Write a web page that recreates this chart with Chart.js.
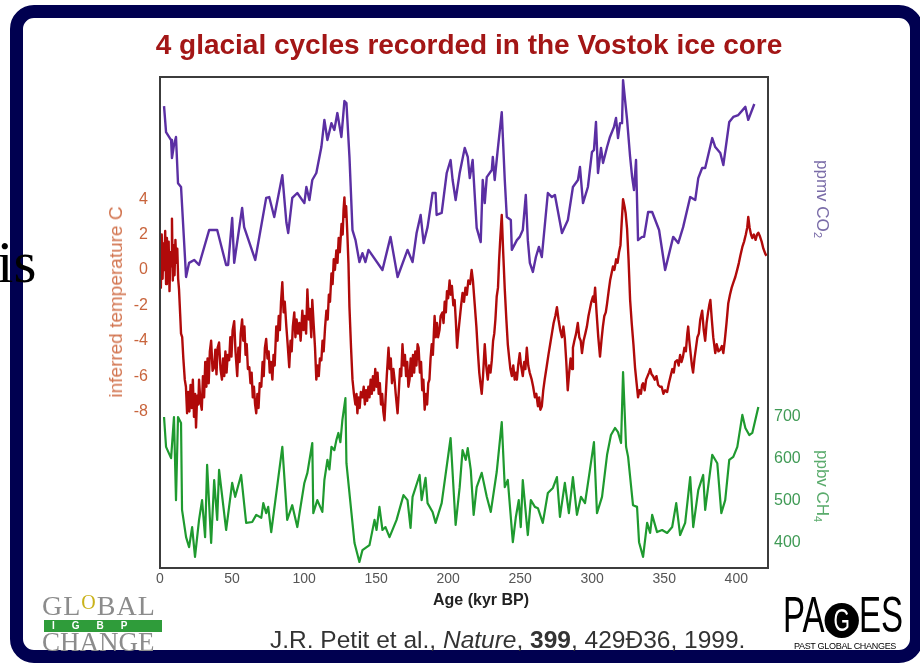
<!DOCTYPE html>
<html>
<head>
<meta charset="utf-8">
<script src="https://cdn.jsdelivr.net/npm/chart.js@4.4.0/dist/chart.umd.min.js"></script>
<style>
  body { margin: 0; width: 920px; height: 663px; overflow: hidden; background: #fff; position: relative; font-family: "Liberation Sans", Arial, sans-serif; }
  #frame { position: absolute; left: 10px; top: 5px; width: 887px; height: 632px; border: 13px solid #000050; border-radius: 24px; background: #fff; }
  #chart { position: absolute; left: 0; top: 0; }
  .txt { position: absolute; white-space: nowrap; }
  #title { left: 155px; top: 29px; width: 628px; text-align: center; font: bold 28px "Liberation Sans", Arial, sans-serif; color: #a31616; }
  #ytitle { left: 116px; top: 302px; transform: translate(-50%, -50%) rotate(-90deg); font-size: 19px; color: #d2744f; }
  .rtitle { writing-mode: vertical-rl; font-size: 17px; }
  .rtitle sub { font-size: 11px; vertical-align: baseline; position: relative; left: -4px; }
  #co2title { left: 812px; top: 160px; color: #7a6ca8; }
  #ch4title { left: 812px; top: 450px; color: #5aab6c; }
  #xtitle { left: 481px; top: 591px; transform: translateX(-50%); font-weight: bold; font-size: 16px; color: #222; }
  #cite { left: 270px; top: 626px; font: 24.5px "Liberation Sans", Arial, sans-serif; color: #333; }
  #is { left: -3px; top: 228px; font: 59px "Liberation Serif", serif; color: #000; }
  #glob { left: 42px; top: 592px; width: 120px; font-family: "Liberation Serif", serif; color: #8c8c8c; }
  #glob .l1 { font-size: 28px; letter-spacing: 1px; line-height: 27px; height: 27px; }
  #glob .o { color: #c9b21a; font-size: 20px; position: relative; top: -6px; }
  #glob .bar { background: #2f9c3a; color: #fff; font: bold 10px "Liberation Sans", sans-serif; letter-spacing: 17px; padding-left: 8px; height: 12px; line-height: 12px; width: 110px; margin: 1px 0 0 2px; }
  #glob .l2 { font-size: 27px; line-height: 21px; height: 21px; }
  #pages { left: 783px; top: 594px; width: 124px; color: #000; }
  #pages .big { font: 50px "Liberation Sans", Arial, sans-serif; line-height: 42px; transform: scaleX(0.66); transform-origin: left top; white-space: nowrap; }
  #pages .g { display: inline-block; width: 52px; height: 35px; border-radius: 50%; background: #000; color: #fff; font-size: 32px; line-height: 35px; text-align: center; vertical-align: 1px; }
  #pages .small { font: 9px "Liberation Sans", sans-serif; margin-top: 3px; width: 124px; text-align: center; letter-spacing: -0.3px; }
</style>
</head>
<body>
<div id="frame"></div>
<div class="txt" id="is">is</div>
<canvas id="chart" width="920" height="663"></canvas>
<div class="txt" id="title">4 glacial cycles recorded in the Vostok ice core</div>
<div class="txt" id="ytitle">inferred temperature C</div>
<div class="txt rtitle" id="co2title">ppmv CO<sub>2</sub></div>
<div class="txt rtitle" id="ch4title">ppbv CH<sub>4</sub></div>
<div class="txt" id="xtitle">Age (kyr BP)</div>
<div class="txt" id="cite">J.R. Petit et al., <i>Nature</i>, <b>399</b>, 429&#208;36, 1999.</div>
<div class="txt" id="glob"><div class="l1">GL<span class="o">O</span>BAL</div><div class="bar">IGBP</div><div class="l2">CHANGE</div></div>
<div class="txt" id="pages"><div class="big">PA<span class="g">G</span>ES</div><div class="small">PAST GLOBAL CHANGES</div></div>
<script>
const xTicks = [0, 50, 100, 150, 200, 250, 300, 350, 400];
const tempTicks = [-8, -6, -4, -2, 0, 2, 4];
const co2Ticks = [200, 220, 240, 260, 280];
const ch4Ticks = [400, 500, 600, 700];

// temperature (deg C) vs age (kyr BP)
const tempAge = [
  0, 0.6, 1.2, 1.8, 2.4, 3.0, 3.6, 4.2, 4.8, 5.4, 6.0, 6.6, 7.2, 7.8, 8.3, 8.9, 9.5, 10.1, 10.7, 11.3, 12.0, 12.6, 13.2, 14.0, 14.6, 15.4, 16.2, 17.2, 18.0, 18.8,
  19.6, 20.4, 21.2, 22.0, 22.8, 23.6, 24.4, 25.0, 25.8, 26.6, 27.1, 28.0, 29.0, 29.8, 30.6, 31.4, 32.2, 33.0, 33.8, 34.6, 35.5, 36.5, 37.6, 38.4, 39.2, 40.0, 41.0, 42.0, 43.0, 43.8,
  44.6, 45.4, 46.2, 47.0, 48.0, 48.8, 49.6, 50.4, 51.5, 52.4, 53.6, 54.4, 55.2, 56.0, 57.0, 57.8, 58.6, 59.4, 60.2, 61.0, 62.0, 62.8, 63.6, 64.4, 65.2, 66.0, 66.8, 67.6, 68.4, 69.2,
  70.3, 71.2, 72.0, 72.8, 73.7, 74.6, 75.4, 76.2, 77.0, 78.0, 78.8, 79.6, 80.7, 81.6, 82.4, 83.2, 84.0, 84.9, 85.8, 86.6, 87.7, 88.6, 89.7, 90.6, 91.4, 92.2, 93.2, 94.0, 94.8, 95.8,
  96.7, 97.6, 98.8, 99.6, 100.4, 101.4, 102.3, 103.2, 104.0, 105.0, 105.7, 106.6, 107.6, 108.5, 109.4, 110.2, 111.0, 112.0, 112.8, 113.6, 114.6, 115.5, 116.4, 117.2, 118.0, 119.0, 119.8, 120.6, 121.4, 122.4,
  123.2, 124.0, 124.8, 126.0, 126.8, 127.4, 128.0, 128.6, 129.2, 130.0, 130.8, 131.5, 132.6, 133.6, 134.6, 135.6, 136.4, 137.0, 137.8, 138.6, 139.4, 140.5, 141.4, 142.2, 143.0, 143.8, 144.6, 145.4, 146.2, 147.0,
  147.8, 148.6, 149.4, 150.2, 151.0, 151.8, 152.6, 153.4, 154.2, 155.0, 155.8, 156.6, 157.4, 158.6, 159.4, 160.2, 161.0, 162.0, 162.8, 163.6, 164.9, 165.8, 166.6, 167.4, 168.3, 169.2, 170.0, 170.8, 171.6, 172.4,
  173.2, 174.0, 174.8, 175.6, 176.4, 177.2, 178.0, 178.8, 179.5, 180.4, 181.2, 182.0, 182.8, 183.7, 184.6, 185.4, 186.2, 187.0, 187.8, 188.6, 189.4, 190.6, 191.4, 192.2, 193.0, 194.0, 194.8, 196.0, 196.8, 197.6,
  198.4, 199.2, 200.0, 201.0, 201.8, 202.6, 203.6, 204.5, 205.4, 206.2, 207.0, 208.0, 209.0, 210.0, 211.0, 212.0, 213.0, 214.0, 215.2, 216.3, 217.2, 218.4, 219.6, 220.6, 221.6, 222.4, 223.3, 224.2, 225.4, 226.4,
  227.5, 228.4, 229.4, 230.3, 231.2, 232.0, 232.8, 233.7, 234.6, 235.4, 236.2, 237.2, 238.2, 239.3, 240.4, 241.4, 242.4, 243.2, 244.2, 245.2, 246.2, 247.0, 247.7, 248.6, 249.7, 250.6, 251.8, 252.8, 253.6, 254.6,
  255.6, 256.6, 258.0, 259.0, 260.2, 261.2, 262.3, 263.2, 264.0, 265.0, 266.0, 267.0, 268.5, 269.6, 270.8, 272.0, 273.2, 274.4, 275.5, 276.6, 277.8, 279.0, 280.0, 281.0, 282.0, 283.0, 284.0, 285.0, 286.0, 286.6,
  287.6, 288.8, 290.0, 291.0, 292.0, 292.9, 294.0, 295.2, 296.3, 297.4, 298.4, 299.4, 300.5, 301.2, 302.0, 303.0, 304.2, 305.4, 306.4, 307.4, 308.4, 309.4, 310.3, 311.4, 312.4, 313.4, 314.4, 315.4, 316.6, 317.6,
  318.6, 319.6, 320.4, 321.4, 322.4, 323.2, 324.2, 325.2, 326.3, 327.4, 328.6, 329.7, 330.8, 331.8, 332.8, 333.8, 334.6, 335.3, 336.4, 337.4, 338.4, 339.4, 340.2, 341.2, 342.2, 343.4, 344.6, 345.8, 347.0, 348.2,
  349.4, 350.6, 352.0, 353.2, 354.4, 355.6, 356.6, 357.6, 359.0, 360.0, 361.0, 362.0, 363.0, 364.0, 365.0, 366.0, 366.6, 367.4, 368.4, 369.2, 370.0, 371.0, 372.0, 373.0, 374.0, 375.0, 376.3, 377.4, 378.4, 379.4,
  380.4, 381.2, 382.0, 383.0, 384.0, 385.4, 386.4, 387.6, 388.9, 390.0, 391.0, 392.0, 393.2, 394.4, 395.6, 396.8, 398.0, 399.3, 400.6, 401.8, 402.8, 404.2, 405.4, 406.6, 407.6, 408.3, 409.2, 410.2, 411.1, 412.2,
  413.4, 414.4, 415.3, 416.4, 417.6, 418.8, 420.2, 421.0
];
const tempVal = [
  1.2, -1.0, 2.0, -0.5, 1.5, 0.0, 2.2, -0.8, 1.8, -0.2, 1.6, -1.2, 1.0, 0.2, 2.9, -0.6, 1.4, -0.3, 1.7, 0.4, 1.2, -0.5, -1.1, -2.5, -3.6, -3.8, -5.0, -6.2, -6.6, -8.1,
  -6.9, -8.0, -6.5, -7.8, -6.2, -8.3, -7.0, -8.9, -7.1, -7.6, -6.2, -7.4, -7.9, -6.0, -7.2, -5.2, -6.6, -5.0, -6.4, -4.6, -4.0, -5.7, -5.5, -4.5, -5.9, -4.4, -4.1, -5.6, -6.2, -5.0,
  -6.0, -4.6, -5.8, -4.8, -5.1, -3.8, -4.9, -3.4, -2.9, -4.6, -6.0, -4.4, -5.2, -3.6, -2.8, -4.0, -3.2, -4.8, -4.2, -5.6, -5.5, -6.4, -5.8, -7.2, -6.6, -7.6, -8.1, -7.0, -7.8, -6.4,
  -6.6, -5.2, -6.0, -4.4, -3.9, -5.0, -4.6, -5.8, -5.2, -6.2, -4.8, -5.4, -3.2, -4.0, -2.6, -3.4, -1.8, -0.7, -2.4, -1.8, -3.2, -4.2, -5.5, -4.0, -4.6, -3.2, -2.4, -3.8, -2.8, -3.6,
  -3.0, -4.0, -2.3, -3.4, -2.6, -3.6, -1.1, -2.8, -2.2, -3.8, -1.7, -3.0, -4.4, -6.2, -5.4, -6.0, -5.0, -5.1, -4.0, -4.6, -3.2, -2.3, -2.8, -1.4, -1.8, -0.2, -0.8, 0.6, 0.0, 1.1,
  0.4, 1.8, 1.0, 2.6, 2.0, 3.4, 4.1, 3.0, 3.6, 2.1, 0.4, -2.1, -4.4, -6.2, -7.0, -7.6, -7.0, -8.1, -7.2, -7.8, -6.9, -7.2, -6.6, -7.6, -6.8, -7.4, -6.6, -7.2, -6.2, -7.0,
  -6.0, -6.8, -5.6, -6.6, -5.8, -7.0, -6.4, -7.6, -7.0, -8.0, -8.5, -7.2, -6.0, -4.4, -5.6, -5.0, -6.4, -5.6, -6.2, -7.0, -8.1, -6.8, -5.6, -6.0, -4.2, -5.4, -4.8, -6.0, -5.2, -6.6,
  -6.2, -5.0, -6.0, -4.8, -5.8, -4.6, -5.4, -4.2, -4.4, -5.8, -5.2, -6.8, -6.2, -7.9, -7.0, -7.6, -6.4, -6.2, -5.0, -4.2, -4.8, -2.6, -3.8, -3.0, -3.8, -3.4, -2.6, -2.4, -3.0, -1.8,
  -2.4, -1.2, -1.6, -0.6, -1.4, -0.9, -2.0, -1.7, -3.0, -4.4, -3.6, -2.8, -2.0, -1.3, -1.8, -1.0, -1.4, -0.6, -0.8, 0.0, -0.6, -1.9, -3.2, -4.6, -5.8, -6.4, -7.0, -6.0, -4.2, -5.4,
  -6.2, -5.4, -5.8, -5.1, -4.0, -3.6, -2.8, -1.5, -1.0, 0.6, 1.8, 3.1, 1.0, -1.1, -2.8, -4.2, -5.0, -5.6, -6.0, -5.4, -6.2, -5.8, -6.2, -5.4, -4.7, -5.4, -6.0, -5.2, -5.6, -4.4,
  -5.4, -5.8, -6.2, -6.6, -7.2, -7.0, -7.7, -7.2, -7.9, -7.7, -6.8, -6.2, -5.4, -4.8, -4.2, -3.6, -3.0, -2.6, -2.1, -2.8, -3.4, -3.8, -3.2, -3.9, -5.2, -6.8, -5.8, -5.0, -5.6, -4.4,
  -4.0, -3.6, -3.0, -3.8, -4.0, -4.7, -4.0, -3.6, -3.2, -2.6, -2.2, -1.8, -1.5, -1.8, -1.0, -2.4, -3.8, -4.9, -4.0, -3.2, -2.6, -2.4, -1.9, -1.2, -0.6, -0.2, 0.2, 0.0, 0.6, 0.4,
  1.0, 1.4, 2.6, 4.0, 3.6, 3.2, 2.3, 0.6, -1.7, -3.0, -4.2, -5.5, -6.4, -7.2, -6.8, -7.0, -6.5, -6.4, -6.8, -6.2, -6.0, -5.8, -5.6, -5.9, -6.0, -6.2, -6.0, -6.5, -6.6, -6.6,
  -7.0, -6.8, -6.9, -6.4, -6.0, -5.6, -5.8, -5.2, -5.1, -5.4, -4.8, -5.2, -4.9, -4.4, -4.6, -3.6, -3.2, -4.0, -4.8, -5.4, -5.8, -5.0, -4.4, -3.8, -3.6, -2.8, -2.3, -3.4, -4.0, -3.0,
  -2.4, -2.0, -1.7, -2.8, -3.8, -4.7, -4.2, -4.6, -4.5, -4.3, -4.7, -4.0, -3.0, -1.9, -1.4, -1.0, -0.7, -0.4, 0.0, 0.4, 0.8, 1.3, 1.6, 2.0, 2.4, 3.0, 2.4, 2.0, 1.8, 2.0,
  1.7, 2.0, 2.1, 1.9, 1.6, 1.2, 0.9, 0.8
];

// CO2 (ppmv) vs age (kyr BP)
const co2Age = [
  2.8, 4.2, 7.7, 8.3, 9.7, 11.1, 12.5, 14.6, 18.1, 20.2, 23.7, 27.1, 34.1, 39.7, 45.9, 47.3, 50.1, 51.5, 57.0, 58.4,
  66.1, 73.7, 75.8, 79.3, 84.9, 87.7, 89.0, 91.8, 95.3, 100.2, 101.6, 103.7, 105.7, 108.5, 112.0, 114.1, 116.2, 119.0, 121.0, 123.1,
  125.9, 128.0, 129.4, 131.5, 133.6, 135.7, 138.4, 140.5, 142.6, 144.7, 154.4, 160.0, 164.9, 171.8, 175.3, 178.1, 180.9, 183.0, 185.7, 189.2,
  191.3, 192.0, 195.5, 199.0, 201.7, 203.1, 205.2, 208.0, 211.5, 213.6, 215.0, 217.0, 219.8, 222.6, 224.0, 225.4, 226.8, 230.3, 231.0, 232.3,
  234.4, 237.2, 239.3, 240.7, 243.5, 244.2, 247.7, 249.7, 251.8, 253.9, 255.3, 256.7, 258.8, 260.9, 263.0, 265.0, 269.2, 272.0, 274.1, 279.0,
  283.1, 286.6, 290.1, 291.5, 293.6, 297.0, 299.8, 301.2, 302.6, 304.0, 306.1, 307.5, 310.3, 312.3, 315.1, 316.5, 317.9, 319.3, 320.7, 321.4,
  322.8, 324.2, 326.3, 327.7, 329.0, 330.4, 331.8, 334.6, 336.0, 338.8, 341.6, 346.4, 350.6, 356.2, 359.7, 363.1, 368.0, 371.5, 373.6, 376.3,
  378.4, 383.3, 385.4, 388.9, 391.0, 395.1, 397.9, 401.4, 406.3, 408.3, 412.5
];
const co2Val = [
  293.5, 277.5, 272.6, 261.5, 269.5, 274.5, 246.0, 243.7, 188.3, 197.0, 198.8, 195.7, 217.2, 217.2, 195.7, 195.7, 224.6, 197.0, 230.8, 219.0,
  198.8, 237.0, 237.5, 225.2, 251.0, 222.0, 215.4, 237.0, 240.0, 233.8, 243.7, 235.7, 248.0, 252.3, 268.3, 285.0, 272.6, 283.0, 278.8, 289.2,
  274.5, 296.6, 295.4, 262.2, 217.2, 211.0, 197.5, 203.0, 197.5, 205.0, 192.6, 213.0, 188.3, 205.0, 197.5, 215.4, 226.5, 209.2, 219.0, 240.0,
  240.0, 226.5, 227.7, 252.3, 260.3, 248.0, 235.7, 252.3, 267.7, 262.2, 249.2, 260.3, 218.5, 209.8, 248.0, 233.8, 249.8, 254.2, 262.2, 248.0,
  266.5, 289.8, 248.0, 225.2, 223.4, 205.0, 211.0, 213.0, 217.2, 238.8, 211.0, 197.0, 191.4, 200.6, 206.8, 200.6, 240.0, 237.5, 238.8, 215.4,
  223.4, 243.7, 248.0, 256.0, 233.8, 243.7, 265.2, 266.5, 283.7, 252.3, 267.7, 258.5, 268.3, 274.5, 280.6, 286.2, 273.8, 283.0, 283.0, 309.5,
  297.2, 285.0, 262.2, 249.8, 241.8, 260.3, 211.0, 213.0, 213.0, 228.3, 228.3, 217.2, 192.6, 213.0, 209.2, 219.0, 237.5, 235.7, 249.2, 255.4,
  255.4, 273.8, 268.3, 264.6, 257.2, 283.7, 286.8, 288.0, 293.0, 285.0, 294.8
];

// CH4 (ppbv) vs age (kyr BP)
const ch4Age = [
  2.8, 4.2, 7.7, 9.7, 11.1, 12.5, 14.6, 15.3, 18.1, 20.2, 22.3, 24.3, 27.1, 29.2, 31.3, 32.7, 35.5, 37.6, 39.7, 41.0,
  45.9, 50.1, 52.2, 56.3, 59.8, 64.0, 66.8, 70.3, 71.7, 73.7, 75.1, 77.2, 84.9, 88.3, 91.8, 95.3, 100.2, 102.3, 105.7, 106.4,
  109.2, 112.7, 114.1, 116.2, 117.6, 119.0, 121.0, 122.4, 123.8, 125.2, 126.6, 128.7, 129.4, 132.9, 135.0, 138.4, 140.5, 145.4, 148.9, 150.3,
  152.3, 154.4, 156.5, 159.3, 164.2, 169.0, 171.8, 173.9, 175.3, 180.2, 181.6, 184.3, 185.7, 189.2, 191.3, 195.5, 201.7, 205.2, 208.0, 210.0,
  212.2, 213.6, 215.7, 217.7, 219.8, 223.3, 226.8, 229.6, 233.7, 237.2, 239.3, 241.4, 244.9, 247.0, 249.0, 250.4, 251.8, 255.3, 257.4, 260.2,
  262.3, 265.7, 269.2, 272.7, 275.5, 277.6, 281.0, 283.8, 286.6, 289.4, 292.2, 295.0, 298.4, 301.2, 303.3, 306.8, 310.3, 313.0, 315.8, 317.9,
  320.0, 321.4, 323.5, 324.9, 328.3, 331.1, 332.5, 335.3, 338.1, 340.2, 341.6, 345.0, 348.5, 352.0, 355.5, 358.3, 361.0, 364.5, 368.0, 370.1,
  373.6, 377.0, 378.4, 383.3, 386.8, 389.6, 392.3, 395.1, 397.9, 400.7, 404.2, 406.3, 409.0, 411.1, 415.3
];
const ch4Val = [
  700, 629, 602, 700, 502, 700, 686, 479, 414, 390, 438, 367, 455, 502, 414, 586, 400, 550, 455, 574,
  431, 543, 510, 562, 448, 450, 467, 460, 495, 471, 486, 426, 629, 455, 490, 438, 543, 567, 638, 471,
  502, 474, 550, 598, 575, 629, 621, 645, 662, 640, 693, 745, 590, 471, 400, 355, 383, 395, 455, 431,
  486, 431, 438, 414, 455, 514, 502, 436, 510, 562, 502, 555, 495, 474, 448, 495, 650, 443, 533, 621,
  598, 626, 574, 467, 533, 567, 510, 474, 569, 688, 533, 550, 402, 462, 502, 438, 550, 419, 502, 486,
  483, 448, 519, 531, 557, 462, 543, 471, 557, 467, 510, 495, 574, 640, 471, 510, 610, 657, 674, 664,
  638, 807, 629, 605, 490, 486, 402, 367, 448, 424, 467, 426, 431, 424, 438, 495, 419, 448, 557, 438,
  526, 562, 479, 610, 590, 471, 502, 598, 605, 629, 705, 674, 657, 662, 724
];

function pts(ages, vals) {
  return ages.map((a, i) => ({ x: a, y: vals[i] }));
}

const boxPlugin = {
  id: 'box',
  afterDatasetsDraw(chart) {
    const { ctx, chartArea: a } = chart;
    ctx.save();
    ctx.strokeStyle = '#3c3c3c';
    ctx.lineWidth = 2;
    ctx.strokeRect(a.left, a.top, a.right - a.left, a.bottom - a.top);
    ctx.restore();
  }
};

const tickFont = { family: '"Liberation Sans", Arial, sans-serif', size: 16 };

function yAxis(pos, min, max, list, color, width, pad) {
  return {
    position: pos, min, max,
    grid: { display: false, drawTicks: false },
    border: { display: false },
    ticks: { color, font: tickFont, padding: pad, autoSkip: false },
    afterBuildTicks: s => { s.ticks = list.map(v => ({ value: v })); },
    afterFit: s => { s.width = width; }
  };
}

new Chart(document.getElementById('chart'), {
  type: 'line',
  data: {
    datasets: [
      { data: pts(co2Age, co2Val), yAxisID: 'yC', borderColor: '#5b2fa3', borderWidth: 2.4 },
      { data: pts(tempAge, tempVal), yAxisID: 'yT', borderColor: '#b00a0a', borderWidth: 2.4 },
      { data: pts(ch4Age, ch4Val), yAxisID: 'yM', borderColor: '#1f9a2f', borderWidth: 2.2 }
    ]
  },
  options: {
    responsive: false,
    animation: false,
    layout: { padding: { top: 77, left: 0, right: 0, bottom: 0 } },
    plugins: { legend: { display: false }, tooltip: { enabled: false } },
    elements: { point: { radius: 0 }, line: { tension: 0, borderJoinStyle: 'round' } },
    scales: {
      x: {
        type: 'linear', min: 0, max: 422,
        grid: { display: false, drawTicks: false },
        border: { display: false },
        ticks: { color: '#555', font: { family: tickFont.family, size: 14 }, padding: 3, maxRotation: 0, autoSkip: false },
        afterBuildTicks: s => { s.ticks = xTicks.map(v => ({ value: v })); },
        afterFit: s => { s.height = 95; }
      },
      yT: yAxis('left', -16.84, 10.9, tempTicks, '#c8643c', 160, 12),
      yC: yAxis('right', 9.2, 311.4, co2Ticks, '#645a96', 0, 9),
      yM: yAxis('right', 340.5, 1509.5, ch4Ticks, '#3f9a55', 152, 6)
    }
  },
  plugins: [boxPlugin]
});
</script>
</body>
</html>
